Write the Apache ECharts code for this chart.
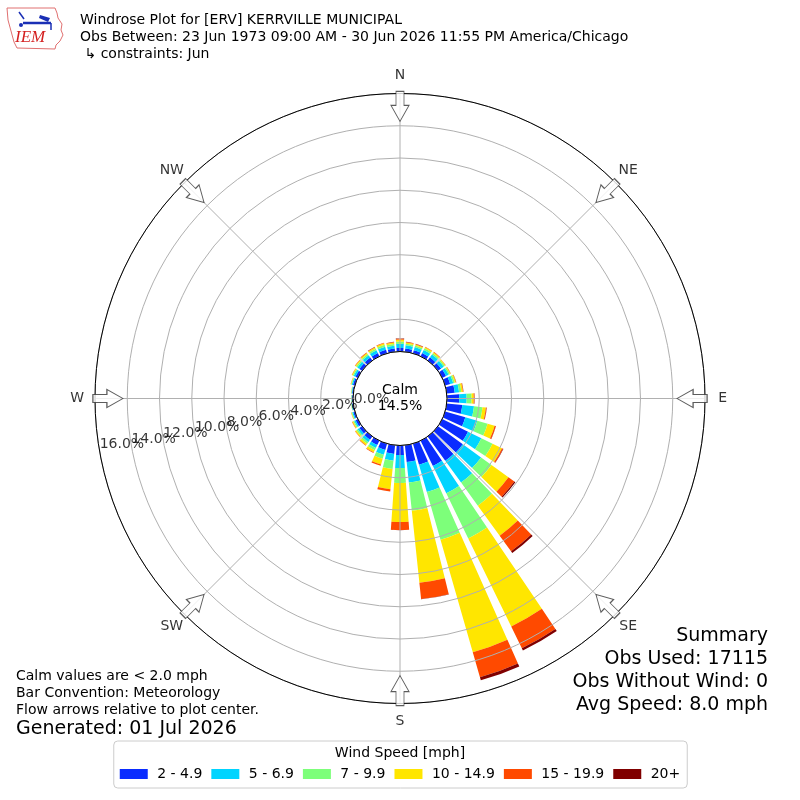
<!DOCTYPE html>
<html>
<head>
<meta charset="utf-8">
<script src="https://cdn.jsdelivr.net/npm/echarts@6/dist/echarts.min.js"></script>
<style>html,body{margin:0;padding:0;background:#fff}#c{width:800px;height:800px}</style>
</head>
<body>
<div id="c"></div>
<script>
// ---- data (percent of observations) ----
const directions = [0,10,20,30,40,50,60,70,80,90,100,110,120,130,140,150,160,170,180,190,200,210,220,230,240,250,260,270,280,290,300,310,320,330,340,350];
const speedBins = ['2 - 4.9','5 - 6.9','7 - 9.9','10 - 14.9','15 - 19.9','20+'];
const spd2to5   = [.22,.20,.20,.22,.24,.24,.26,.32,.50,.76,.97,1.30,1.78,1.90,1.86,1.74,1.36,1.05,.59,.54,.40,.30,.25,.20,.15,.10,.07,.06,.07,.12,.16,.20,.22,.22,.23,.20];
const spd5to7   = [.26,.20,.20,.22,.22,.20,.18,.20,.27,.46,.73,.77,.92,1.40,1.67,1.89,1.76,1.28,.81,.42,.32,.20,.18,.14,.10,.07,.04,.03,.04,.08,.12,.16,.18,.19,.20,.18];
const spd7to10  = [.14,.10,.10,.11,.10,.09,.09,.10,.14,.31,.53,.67,.77,.80,1.77,3.11,3.08,1.76,.93,.52,.25,.15,.12,.10,.07,.04,.02,.02,.02,.04,.07,.09,.10,.11,.12,.11];
const spd10to15 = [.12,.08,.07,.08,.07,.05,.05,.07,.10,.13,.21,.45,.65,1.30,2.30,6.08,7.26,4.49,2.41,1.26,.38,.15,.12,.08,.06,.03,.01,.01,.02,.03,.05,.07,.08,.09,.10,.09];
const spd15to20 = [.05,.03,.03,.03,.03,.02,.02,.02,.03,.05,.05,.08,.08,.45,1.20,1.50,1.61,1.01,.50,.15,.08,.04,.03,.02,.02,.01,0,0,0,.01,.02,.03,.03,.03,.03,.03];
const spd20plus = [.02,.01,.01,0,0,0,0,.01,.01,.01,.01,.01,.02,.08,.13,.15,.20,.02,.01,0,0,0,0,0,0,0,0,0,0,0,0,0,.01,.01,.01,.01];
const binValues = [spd2to5, spd5to7, spd7to10, spd10to15, spd15to20, spd20plus];
const compassNames = ['N','NE','E','SE','S','SW','W','NW'];
const compassAngles = [0,45,90,135,180,225,270,315];
const radiusTicks = [0,2,4,6,8,10,12,14,16];
const radiusMax = 16;
const radiusStep = 2;
const radiusLabelAngle = 260;
const calmPct = '14.5%';
const titleLines = ['Windrose Plot for [ERV] KERRVILLE MUNICIPAL','Obs Between: 23 Jun 1973 09:00 AM - 30 Jun 2026 11:55 PM America/Chicago',' \u21B3 constraints: Jun'];
const summaryLines = ['Summary','Obs Used: 17115','Obs Without Wind: 0','Avg Speed: 8.0 mph'];
const noteLines = ['Calm values are < 2.0 mph','Bar Convention: Meteorology','Flow arrows relative to plot center.'];
const generatedText = 'Generated: 01 Jul 2026';

// ---- styles ----
const binColors = ['#0a2cff','#00d4ff','#7dff7a','#ffe600','#ff4a00','#800000'];
const FONT = 'DejaVu Sans';
const CX = 400, CY = 398.5, R0 = 47, R1 = 305;
const arrowPath = 'path://M5,0L13,0L13,14L18,14L9,30L0,14L5,14Z';
const arrowRadius = 15.2;        // radial position of the flow arrows (axis units)
const compassLabelRadius = 17.1; // radial position of the compass names (axis units)

const chart = echarts.init(document.getElementById('c'), null, {renderer: 'canvas', width: 800, height: 800});
const hidden = {axisLine:{show:false}, axisTick:{show:false}, axisLabel:{show:false}, splitLine:{show:false}, splitArea:{show:false}};

const option = {
  animation: false,
  backgroundColor: '#fff',
  textStyle: {fontFamily: FONT},
  polar: [
    {center: [CX, CY], radius: [R0, R1]},
    {center: [CX, CY], radius: [R0, R1]}
  ],
  angleAxis: [
    {polarIndex: 0, type: 'value', min: 0, max: 360, interval: 45, startAngle: 90, clockwise: true, z: 11,
     axisLine: {show: true, lineStyle: {color: '#000', width: 1}},
     axisTick: {show: false},
     axisLabel: {show: false},
     splitLine: {show: true, lineStyle: {color: '#b0b0b0', width: 1}}},
    Object.assign({polarIndex: 1, type: 'category', data: directions.map(String), startAngle: 95, clockwise: true}, hidden)
  ],
  radiusAxis: [
    {polarIndex: 0, type: 'value', min: 0, max: radiusMax, interval: radiusStep, z: 10,
     axisLine: {show: false}, axisTick: {show: false}, axisLabel: {show: false},
     splitLine: {show: true, lineStyle: {color: '#b0b0b0', width: 1}}},
    Object.assign({polarIndex: 1, type: 'value', min: 0, max: radiusMax}, hidden)
  ],
  legend: {
    data: speedBins, left: 'center', top: 741, orient: 'horizontal',
    itemWidth: 28, itemHeight: 10, itemGap: 9, icon: 'rect',
    padding: [26, 7, 7, 6], borderColor: '#cccccc', borderWidth: 1, borderRadius: 4, backgroundColor: '#fff',
    textStyle: {fontSize: 14, color: '#000', fontFamily: FONT},
    formatter: n => ' ' + n, selectedMode: false
  },
  series: binValues.map((vals, i) => ({
    type: 'bar', name: speedBins[i], coordinateSystem: 'polar', polarIndex: 1, stack: 'wind',
    data: vals, barWidth: '80%', z: 2, silent: true,
    itemStyle: {color: binColors[i]}, emphasis: {disabled: true}
  })).concat([{
    type: 'scatter', name: 'flow arrows', coordinateSystem: 'polar', polarIndex: 0, z: 13, silent: true, clip: false,
    symbol: arrowPath, symbolSize: [18, 30],
    itemStyle: {color: '#fff', borderColor: '#333', borderWidth: 1},
    data: compassAngles.map(a => ({value: [arrowRadius, a], symbolRotate: -a}))
  }, {
    type: 'scatter', name: 'compass', coordinateSystem: 'polar', polarIndex: 0, z: 13, silent: true, clip: false,
    symbolSize: 0,
    label: {show: true, position: 'inside', color: '#000', fontSize: 14, fontFamily: FONT, formatter: p => p.name},
    data: compassAngles.map((a, i) => ({name: compassNames[i], value: [compassLabelRadius, a]}))
  }, {
    type: 'scatter', name: 'radius labels', coordinateSystem: 'polar', polarIndex: 0, z: 14, silent: true, clip: false,
    symbolSize: 0,
    label: {show: true, position: [0, 0], align: 'left', verticalAlign: 'bottom', color: '#000', fontSize: 14, fontFamily: FONT,
      formatter: p => p.value[0].toFixed(1) + '%'},
    labelLayout: {hideOverlap: false},
    data: radiusTicks.map(v => [v, radiusLabelAngle])
  }]),
  graphic: [
    {type: 'text', x: 80, y: 12, z: 100, style: {text: titleLines.join('\n'), font: '14px "DejaVu Sans"', lineHeight: 17, fill: '#000', align: 'left', verticalAlign: 'top'}},
    {type: 'text', x: 768, y: 624, z: 100, style: {text: summaryLines.join('\n'), font: '19px "DejaVu Sans"', lineHeight: 23.3, fill: '#000', align: 'right', verticalAlign: 'top'}},
    {type: 'text', x: 16, y: 667.5, z: 100, style: {text: noteLines.join('\n'), font: '14px "DejaVu Sans"', lineHeight: 17.3, fill: '#000', align: 'left', verticalAlign: 'top'}},
    {type: 'text', x: 16, y: 729, z: 100, style: {text: generatedText, font: '19px "DejaVu Sans"', fill: '#000', align: 'left', verticalAlign: 'middle'}},
    {type: 'text', x: 400, y: 753, z: 100, style: {text: 'Wind Speed [mph]', font: '14px "DejaVu Sans"', fill: '#000', align: 'center', verticalAlign: 'middle'}},
    {type: 'text', x: CX, y: CY, z: 100, style: {text: 'Calm\n' + calmPct, font: '14px "DejaVu Sans"', lineHeight: 16.6, fill: '#000', align: 'center', verticalAlign: 'middle'}},
    // IEM logo
    {type: 'polygon', z: 100, shape: {points: [[7,8],[55,8],[57,13],[58,18],[62,24],[61,30],[63,35],[60,41],[56,45],[55,49],[17,48],[14,42],[11,31],[8,20]]},
     style: {fill: '#fff', stroke: '#e07070', lineWidth: 1}},
    {type: 'line', z: 101, shape: {x1: 23, y1: 23, x2: 51, y2: 23}, style: {stroke: '#1a2fb5', lineWidth: 2.5}},
    {type: 'line', z: 101, shape: {x1: 19, y1: 12, x2: 24, y2: 19}, style: {stroke: '#1a2fb5', lineWidth: 1.5}},
    {type: 'polygon', z: 101, shape: {points: [[40,15],[50,18],[48,22],[39,18]]}, style: {fill: '#1a2fb5'}},
    {type: 'circle', z: 101, shape: {cx: 21, cy: 25, r: 2}, style: {fill: '#1a2fb5'}},
    {type: 'line', z: 101, shape: {x1: 51, y1: 23, x2: 51, y2: 30}, style: {stroke: '#1a2fb5', lineWidth: 1.5}},
    {type: 'text', x: 15, y: 38, z: 101, style: {text: 'IEM', font: 'italic 17px "Liberation Serif"', fill: '#d42020', align: 'left', verticalAlign: 'middle'}}
  ]
};
chart.setOption(option);
</script>
</body>
</html>
